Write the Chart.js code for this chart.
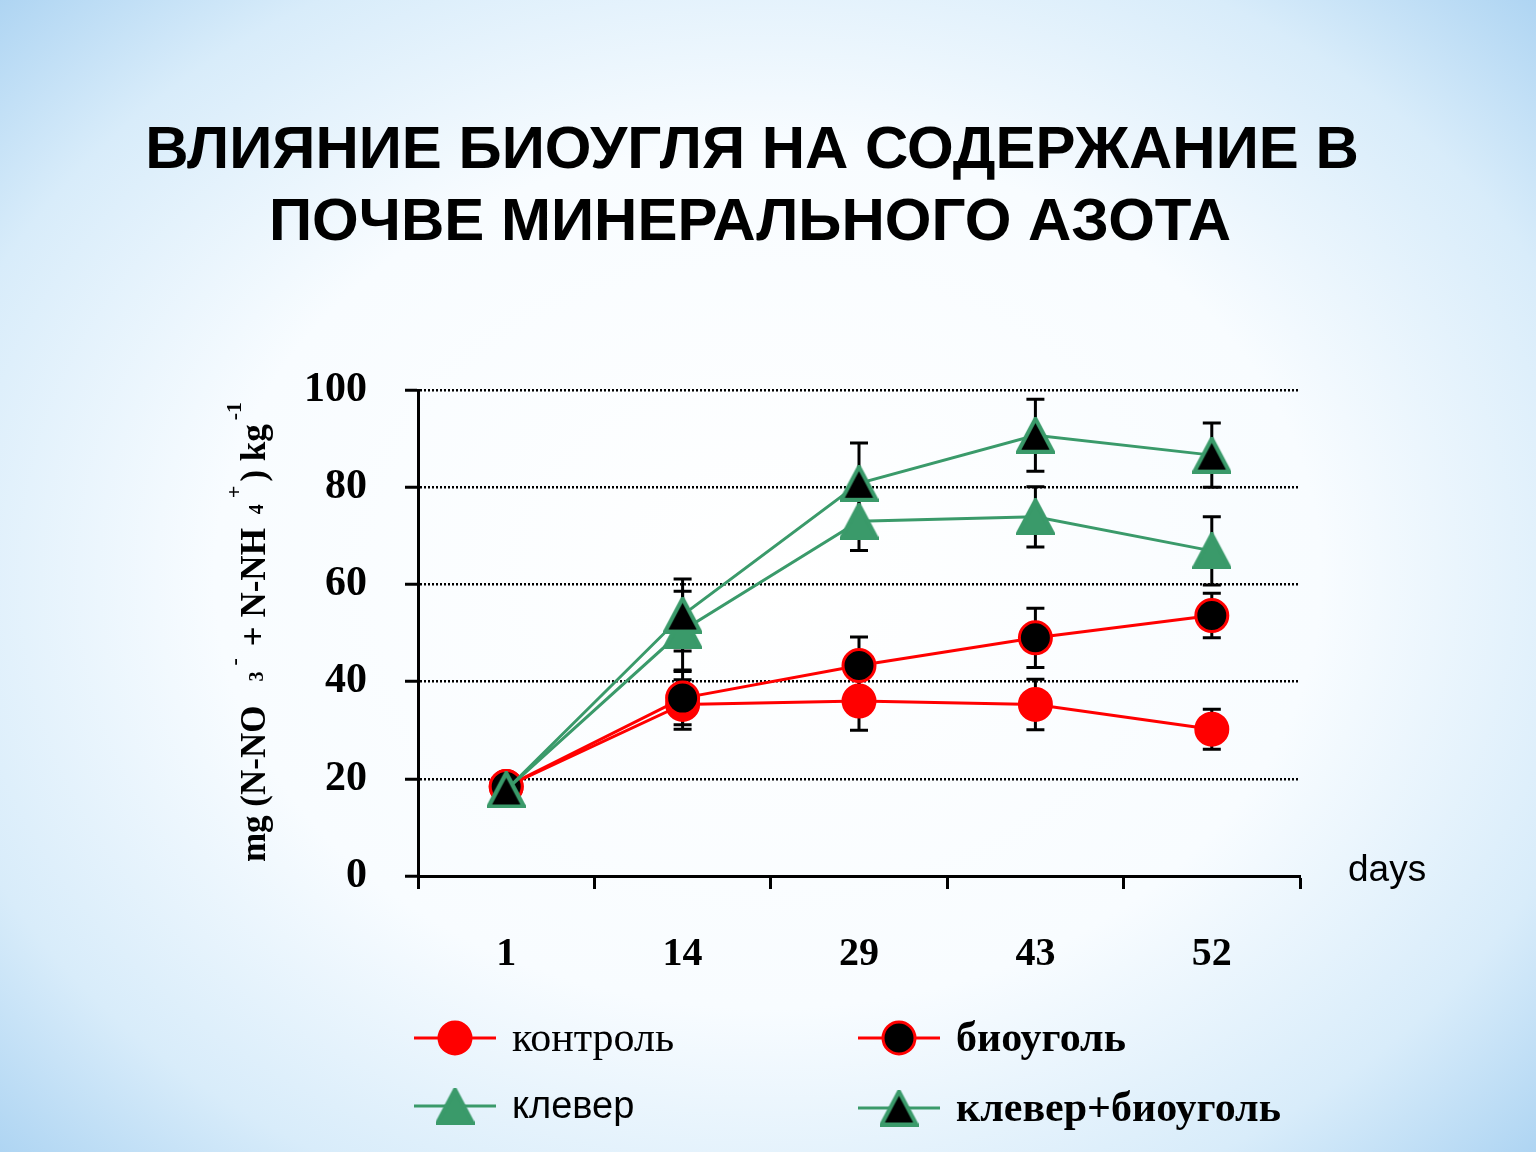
<!DOCTYPE html>
<html>
<head>
<meta charset="utf-8">
<script src="https://cdn.jsdelivr.net/npm/chart.js@4"></script>
<style>
html, body { margin: 0; padding: 0; }
body {
    width: 1536px; height: 1152px; overflow: hidden;
    background: radial-gradient(ellipse 72% 75% at 50% 50%, #ffffff 0%, #f8fcff 50%, #d8ecfa 78%, #a6d0f1 100%);
}
#wrap { width: 1536px; height: 1152px; position: relative; }
</style>
</head>
<body>
<div id="wrap"><canvas id="chart"></canvas></div>
<script>
// data
const days = ['1', '14', '29', '43', '52'];
const yTicks = [0, 20, 40, 60, 80, 100];

const control = [18.4, 35.3, 36.0, 35.3, 30.2];
const controlErr = [0, 5.1, 6.0, 5.2, 4.1];

const biochar = [18.4, 36.6, 43.3, 49.0, 53.6];
const biocharErr = [0, 5.5, 5.9, 6.1, 4.6];

const clover = [17.7, 50.5, 73.0, 73.9, 66.9];
const cloverErr = [0, 8.1, 6.0, 6.2, 7.0];

const cloverBiochar = [17.7, 53.7, 80.8, 90.7, 86.6];
const cloverBiocharErr = [0, 7.4, 8.3, 7.4, 6.6];

const titleLines = ['ВЛИЯНИЕ БИОУГЛЯ НА СОДЕРЖАНИЕ В', 'ПОЧВЕ МИНЕРАЛЬНОГО АЗОТА'];

const RED = '#ff0000';
const GREEN = '#3a9a6a';
const SERIF = '"Liberation Serif", "Times New Roman", serif';
const SANS = '"Liberation Sans", Arial, sans-serif';

// triangle marker centred on its bounding box (like the original)
function makeTriangle(fill, stroke, w, h, lw) {
    const c = document.createElement('canvas');
    c.width = w + lw;
    c.height = h + lw;
    const g = c.getContext('2d');
    g.beginPath();
    g.moveTo(c.width / 2, lw / 2);
    g.lineTo(w + lw / 2, h + lw / 2);
    g.lineTo(lw / 2, h + lw / 2);
    g.closePath();
    g.fillStyle = fill;
    g.fill();
    g.lineWidth = lw;
    g.lineJoin = 'miter';
    g.strokeStyle = stroke;
    g.stroke();
    return c;
}

const triGreen = makeTriangle(GREEN, GREEN, 35, 33, 4);
const triBlack = makeTriangle('#000', GREEN, 35, 33, 4);

const errorBars = {
    id: 'errorBars',
    beforeDatasetsDraw(chart) {
        const { ctx, scales: { y } } = chart;
        ctx.save();
        ctx.strokeStyle = '#000';
        ctx.lineWidth = 3;
        chart.data.datasets.forEach((ds, i) => {
            const meta = chart.getDatasetMeta(i);
            ds.errors.forEach((e, j) => {
                if (!e) return;
                const px = meta.data[j].x;
                const yt = y.getPixelForValue(ds.data[j] + e);
                const yb = y.getPixelForValue(ds.data[j] - e);
                ctx.beginPath();
                ctx.moveTo(px, yt); ctx.lineTo(px, yb);
                ctx.moveTo(px - 9, yt); ctx.lineTo(px + 9, yt);
                ctx.moveTo(px - 9, yb); ctx.lineTo(px + 9, yb);
                ctx.stroke();
            });
        });
        ctx.restore();
    }
};

function drawCircle(ctx, x, y, fill, stroke) {
    ctx.beginPath();
    ctx.arc(x, y, 16, 0, Math.PI * 2);
    ctx.fillStyle = fill;
    ctx.fill();
    ctx.lineWidth = 3;
    ctx.strokeStyle = stroke;
    ctx.stroke();
}

const decorations = {
    id: 'decorations',
    afterDraw(chart) {
        const ctx = chart.ctx;
        ctx.save();
        ctx.fillStyle = '#000';

        // title
        ctx.font = 'bold 60px ' + SANS;
        ctx.textAlign = 'center';
        ctx.textBaseline = 'alphabetic';
        ctx.fillText(titleLines[0], 752, 168);
        ctx.fillText(titleLines[1], 750, 240);

        // days
        ctx.font = '37px ' + SANS;
        ctx.textAlign = 'left';
        ctx.fillText('days', 1348, 881);

        // y axis title with sub/superscripts
        const parts = [
            { t: 'mg (N-NO', s: 35, dy: 0, gap: 0 },
            { t: '3', s: 20, dy: -2, gap: 24 },
            { t: '-', s: 22, dy: -24, gap: 6 },
            { t: '+ N-NH', s: 35, dy: 0, gap: 12 },
            { t: '4', s: 20, dy: -2, gap: 14 },
            { t: '+', s: 22, dy: -24, gap: 6 },
            { t: ') kg', s: 35, dy: 0, gap: 4 },
            { t: '-1', s: 22, dy: -24, gap: 4 }
        ];
        let total = 0;
        parts.forEach(p => {
            ctx.font = 'bold ' + p.s + 'px ' + SERIF;
            p.w = ctx.measureText(p.t).width;
            total += p.gap + p.w;
        });
        ctx.translate(265, 632);
        ctx.rotate(-Math.PI / 2);
        let cx = -total / 2;
        parts.forEach(p => {
            cx += p.gap;
            ctx.font = 'bold ' + p.s + 'px ' + SERIF;
            ctx.fillText(p.t, cx, p.dy);
            cx += p.w;
        });
        ctx.setTransform(1, 0, 0, 1, 0, 0);

        // legend
        const rows = [
            { x: 414, y: 1038, color: RED, mark: 'circle', fill: RED, text: 'контроль', font: '42px ' + SERIF },
            { x: 858, y: 1038, color: RED, mark: 'circle', fill: '#000', text: 'биоуголь', font: 'bold 42px ' + SERIF },
            { x: 414, y: 1106, color: GREEN, mark: triGreen, text: 'клевер', font: '38px ' + SANS },
            { x: 858, y: 1108, color: GREEN, mark: triBlack, text: 'клевер+биоуголь', font: 'bold 42px ' + SERIF }
        ];
        rows.forEach(r => {
            ctx.beginPath();
            ctx.moveTo(r.x, r.y);
            ctx.lineTo(r.x + 82, r.y);
            ctx.lineWidth = 3;
            ctx.strokeStyle = r.color;
            ctx.stroke();
            if (r.mark === 'circle') {
                drawCircle(ctx, r.x + 41, r.y, r.fill, RED);
            } else {
                ctx.drawImage(r.mark, r.x + 41 - r.mark.width / 2, r.y - r.mark.height / 2);
            }
            ctx.font = r.font;
            ctx.fillStyle = '#000';
            ctx.textBaseline = 'middle';
            ctx.fillText(r.text, r.x + 98, r.y + 2);
        });
        ctx.restore();
    }
};

new Chart(document.getElementById('chart'), {
    type: 'line',
    data: {
        labels: days,
        datasets: [
            {
                label: 'контроль', data: control, errors: controlErr, order: 3,
                borderColor: RED, borderWidth: 3, pointStyle: 'circle', pointRadius: 16,
                pointBackgroundColor: RED, pointBorderColor: RED, pointBorderWidth: 3
            },
            {
                label: 'биоуголь', data: biochar, errors: biocharErr, order: 2,
                borderColor: RED, borderWidth: 3, pointStyle: 'circle', pointRadius: 16,
                pointBackgroundColor: '#000', pointBorderColor: RED, pointBorderWidth: 3
            },
            {
                label: 'клевер', data: clover, errors: cloverErr, order: 1,
                borderColor: GREEN, borderWidth: 3, pointStyle: triGreen, pointRadius: 18
            },
            {
                label: 'клевер+биоуголь', data: cloverBiochar, errors: cloverBiocharErr, order: 0,
                borderColor: GREEN, borderWidth: 3, pointStyle: triBlack, pointRadius: 18
            }
        ]
    },
    options: {
        responsive: true,
        maintainAspectRatio: false,
        animation: false,
        events: [],
        layout: { padding: { top: 390, right: 236, left: 0, bottom: 0 } },
        plugins: {
            legend: { display: false },
            title: { display: false },
            tooltip: { enabled: false }
        },
        scales: {
            x: {
                type: 'category',
                offset: true,
                grid: {
                    offset: true, drawOnChartArea: false, drawTicks: true,
                    tickLength: 13, tickColor: '#000', tickWidth: 3, color: '#000'
                },
                border: { color: '#000', width: 3 },
                ticks: {
                    color: '#000', padding: 42,
                    font: { family: SERIF, size: 40, weight: 'bold' }
                },
                afterFit: s => { s.height = 276; }
            },
            y: {
                min: 0, max: 100,
                afterBuildTicks: s => { s.ticks = yTicks.map(v => ({ value: v })); },
                grid: {
                    color: c => (c.tick && c.tick.value === 0) ? 'rgba(0,0,0,0)' : '#000',
                    lineWidth: 2.5, drawTicks: true, tickLength: 13,
                    tickColor: '#000', tickWidth: 3, tickBorderDash: []
                },
                border: { display: true, color: '#000', width: 3, dash: [2, 2] },
                ticks: {
                    color: '#000', padding: 38,
                    font: { family: SERIF, size: 42, weight: 'bold' }
                },
                afterFit: s => { s.width = 418; }
            }
        }
    },
    plugins: [errorBars, decorations]
});
</script>
</body>
</html>
